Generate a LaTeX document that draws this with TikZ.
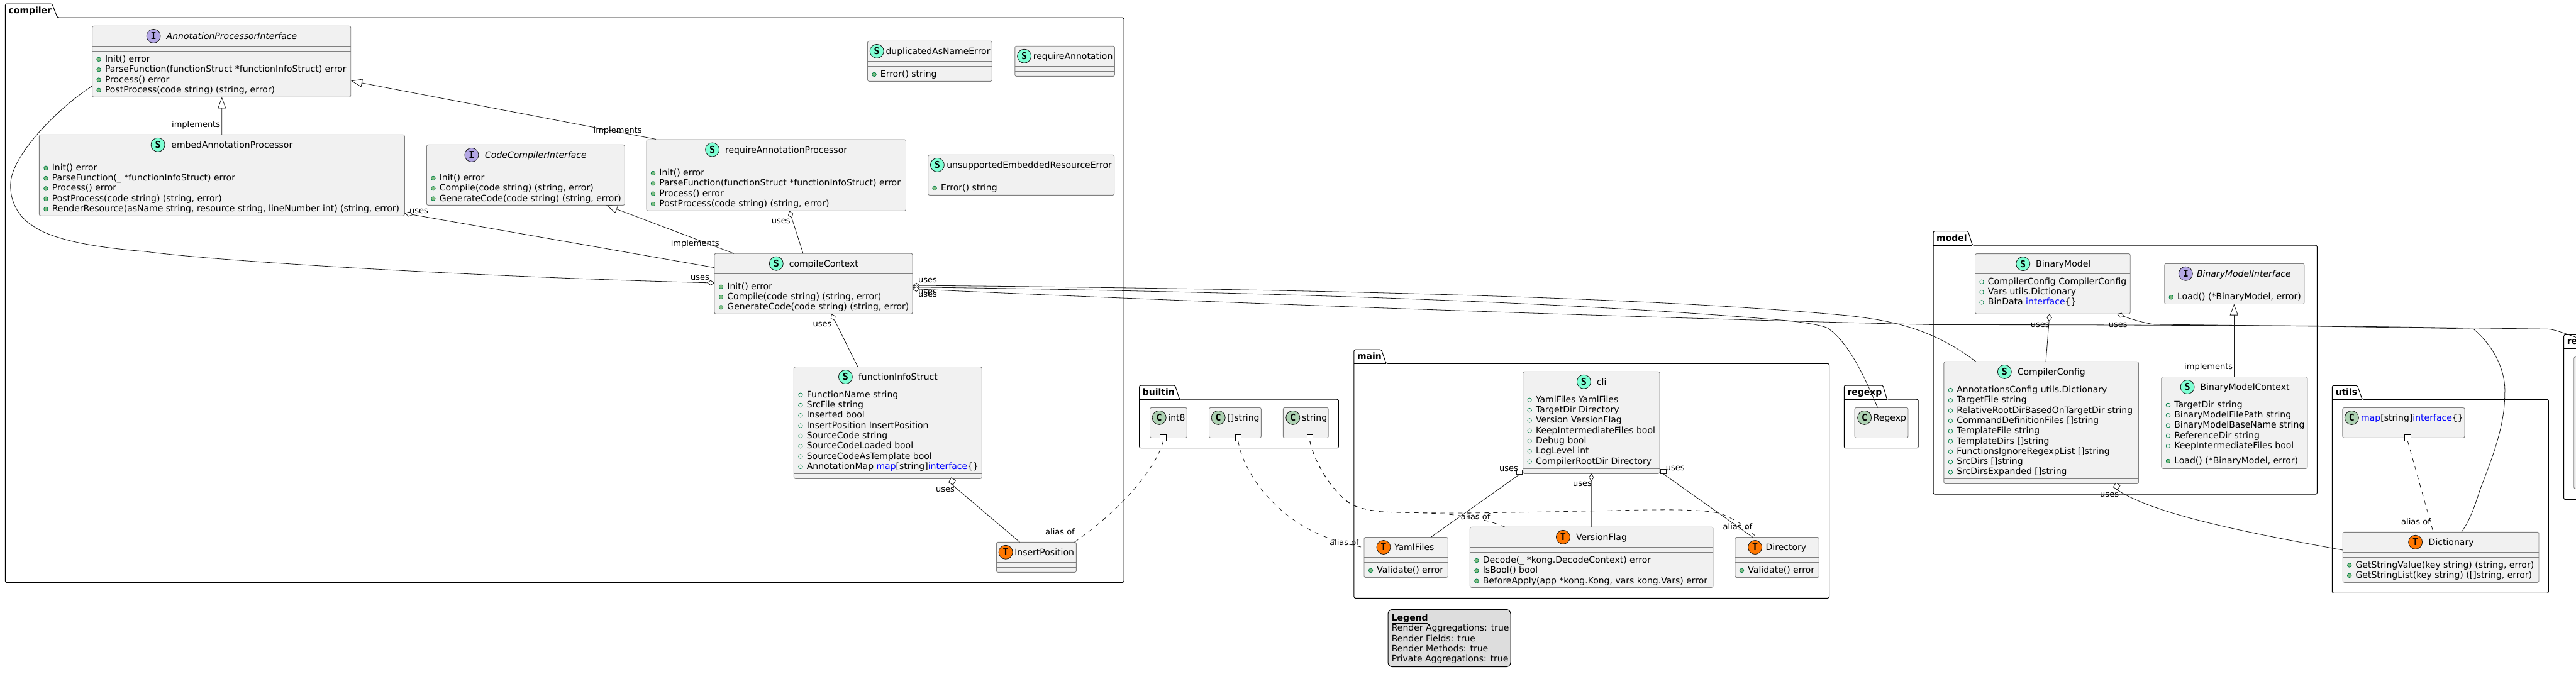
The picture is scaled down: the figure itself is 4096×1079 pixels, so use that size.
\documentclass[tikz,border=0pt]{standalone}
\usepackage{fontspec}
\setmainfont{DejaVu Sans}
\newfontfamily\iconfnt{DejaVu Sans Mono}
\usetikzlibrary{arrows.meta,shapes.geometric}
\definecolor{kfill}{HTML}{F1F1F1}
\definecolor{kline}{HTML}{181818}
\definecolor{kedge}{HTML}{808080}
\definecolor{iconS}{HTML}{7FFFD4}
\definecolor{iconI}{HTML}{B4A7E5}
\definecolor{iconC}{HTML}{ADD1B2}
\definecolor{iconT}{HTML}{FF7700}
\definecolor{dotline}{HTML}{038048}
\definecolor{dotfill}{HTML}{84BE84}
\definecolor{kwblue}{HTML}{0000FF}
\definecolor{legfill}{HTML}{DDDDDD}
\tikzset{
  kboxstyle/.style={rectangle,draw=kedge,fill=kfill,line width=.9pt,rounded corners=2.5pt,inner sep=0pt,outer sep=0pt},
  ksep/.style={draw=kedge,line width=.9pt},
  pkgframe/.style={draw=black,line width=1pt,rounded corners=2.5pt},
  pkgname/.style={anchor=base west,inner sep=0pt,font=\fontsize{14}{16}\selectfont\bfseries},
  ktext/.style={anchor=base west,inner sep=0pt,font=\fontsize{14}{16}\selectfont},
  lab/.style={anchor=base west,inner sep=0pt,font=\fontsize{13}{15}\selectfont},
  kicon/.style={circle,draw=kline,line width=.8pt,minimum size=22pt,inner sep=0pt,font=\iconfnt\bfseries\fontsize{15}{15}\selectfont},
  fdot/.style={circle,draw=dotline,line width=.8pt,minimum size=6.5pt,inner sep=0pt},
  mdot/.style={circle,draw=dotline,fill=dotfill,line width=.8pt,minimum size=6.5pt,inner sep=0pt},
  conn/.style={draw=kline,line width=.8pt},
  alias/.style={draw=kline,line width=.8pt,dash pattern=on 7pt off 7pt},
  dia/.style={{Diamond[fill=white,length=12pt,width=8.5pt]}-},
  tri/.style={{Triangle[fill=white,length=18pt,width=13pt]}-},
  sqn/.style={rectangle,draw=kline,fill=white,line width=.8pt,inner sep=0pt,minimum size=8pt},
  port/.style={rectangle,draw=black,fill=white,line width=1pt,inner sep=0pt,minimum size=9.5pt},
}
\newcommand{\kbox}[7]{%
  \pgfmathsetmacro\kbw{#4-#2}\pgfmathsetmacro\kbh{#5-#3}%
  \pgfmathsetmacro\kcx{(#2+#4)/2}\pgfmathsetmacro\kcy{(#3+#5)/2}%
  \node[kboxstyle,minimum width=\kbw pt,minimum height=\kbh pt] (#1) at (\kcx,\kcy) {};
  \draw[ksep] (#2,#6) -- (#4,#6);
  \ifx\relax#7\relax\else\draw[ksep] (#2,#7) -- (#4,#7);\fi
}
% name, letter, icon x, text x, box top, title
\newcommand{\ktitle}[6]{%
  \node[kicon,fill=icon#2] (#1ico) at (#3,#5+16) {#2};
  \node[ktext] (#1name) at (#4,#5+21) {#6};
}
% prefix, dot style, box left, first baseline, list
\newcommand{\klist}[5]{%
  \foreach \mt [count=\mi from 0] in {#5} {
    \pgfmathsetmacro\my{#4+\mi*16.3}
    \node[#2] (#1d\mi) at (#3+10.5,\my-4) {};
    \node[ktext] (#1t\mi) at (#3+20.2,\my) {\mt};
  }
}
% name, left, right, tab top, line y, bottom, tab right top, tab right bottom
\newcommand{\kpkg}[8]{%
  \draw[pkgframe] (#2,#5) -- (#2,#4) -- (#7,#4) -- (#8,#5) -- (#3,#5) -- (#3,#6) -- (#2,#6) -- cycle;
  \draw[pkgframe] (#2,#5) -- (#8,#5);
  \node[pkgname] (pkg#1) at (#2+5,#4+15.5) {#1};
}
\newcommand{\kwd}[1]{\textcolor{kwblue}{#1}}
\newcommand{\ulab}[3]{\node[lab] (#1) at (#2,#3+4) {uses};}
\newcommand{\ilab}[3]{\node[lab] (#1) at (#2,#3+4) {implements};}
\newcommand{\alab}[3]{\node[lab] (#1) at (#2,#3+4) {alias of};}
\begin{document}
\begin{tikzpicture}[x=1pt,y=-1pt]
\useasboundingbox (0,0) rectangle (4096,1079);
\clip (0,0) rectangle (4096,1079);
% packages
\kpkg{compiler}{8.4}{1787}{6}{28}{926.5}{82.8}{91.2}
\kpkg{builtin}{1811.6}{2128.4}{613}{635.2}{712.7}{1868.5}{1875.5}
\kpkg{main}{2152.9}{2908.5}{556.1}{578.3}{951.3}{2196.4}{2204}
\kpkg{regexp}{2932.3}{3050.2}{613}{635.2}{712.7}{2994}{3000.4}
\kpkg{model}{3074}{3684.3}{367.6}{390.2}{786.2}{3129.3}{3136.3}
\kpkg{utils}{3708.3}{4052.3}{613.3}{635.3}{943.3}{3748.3}{3756}
\kpkg{re}{4076.7}{4400}{532.3}{554.3}{794.7}{4200}{4208}
% compiler classes
\kbox{api}{146.6}{41.4}{557.7}{154.3}{73.2}{81.4}
\ktitle{api}{I}{244.1}{264.5}{41.4}{\itshape AnnotationProcessorInterface}
\klist{apim}{mdot}{146.6}{98.4}{Init() error,ParseFunction(functionStruct *functionInfoStruct) error,Process() error,{PostProcess(code string) (string, error)}}
\kbox{embed}{62.4}{214.3}{643.3}{343.2}{246.4}{254.3}
\ktitle{embed}{S}{251.1}{272.2}{214.3}{embedAnnotationProcessor}
\klist{embedm}{mdot}{62.4}{271.3}{Init() error,ParseFunction(\_ *functionInfoStruct) error,Process() error,{PostProcess(code string) (string, error)},{RenderResource(asName string, resource string, lineNumber int) (string, error)}}
\kbox{code}{678.4}{230.4}{993.3}{326.4}{262.1}{270.4}
\ktitle{code}{I}{749.9}{771}{230.4}{\itshape CodeCompilerInterface}
\klist{codem}{mdot}{678.4}{287.4}{Init() error,{Compile(code string) (string, error)},{GenerateCode(code string) (string, error)}}
\kbox{reqp}{1028}{222}{1440.5}{335.4}{254.3}{262.5}
\ktitle{reqp}{S}{1132.6}{1152.9}{222}{requireAnnotationProcessor}
\klist{reqpm}{mdot}{1028}{279.5}{Init() error,ParseFunction(functionStruct *functionInfoStruct) error,Process() error,{PostProcess(code string) (string, error)}}
\kbox{dup}{1379.5}{65.4}{1577.3}{129.3}{97.5}{105.4}
\ktitle{dup}{S}{1394.2}{1408.3}{65.4}{duplicatedAsNameError}
\klist{dupm}{mdot}{1379.5}{122.4}{Error() string}
\kbox{reqa}{1613.8}{73.2}{1772.4}{121.4}{105.4}{113.2}
\ktitle{reqa}{S}{1628.6}{1642.6}{73.2}{requireAnnotation}
\kbox{unsup}{1475.6}{246.4}{1771.7}{310.4}{278.2}{286.4}
\ktitle{unsup}{S}{1490.4}{1505.1}{246.4}{unsupportedEmbeddedResourceError}
\klist{unsupm}{mdot}{1475.6}{303.4}{Error() string}
\kbox{ctx}{1136}{403.2}{1451}{499.3}{435.4}{443.2}
\ktitle{ctx}{S}{1234.3}{1254.6}{403.2}{compileContext}
\klist{ctxm}{mdot}{1136}{460.2}{Init() error,{Compile(code string) (string, error)},{GenerateCode(code string) (string, error)}}
\kbox{func}{1262.4}{583.5}{1561.2}{761.4}{615.2}{753.3}
\ktitle{func}{S}{1344.4}{1364.8}{583.5}{functionInfoStruct}
\klist{funcf}{fdot}{1262.4}{632.2}{FunctionName string,SrcFile string,Inserted bool,InsertPosition InsertPosition,SourceCode string,SourceCodeLoaded bool,SourceCodeAsTemplate bool,{AnnotationMap \kwd{map}[string]\kwd{interface}\{\}}}
\kbox{ins}{1584.4}{862.3}{1711.3}{910.3}{894.4}{902.5}
\ktitle{ins}{T}{1599.1}{1613.1}{862.3}{InsertPosition}
% builtin
\kbox{int8}{1828.5}{648.4}{1887.4}{696.5}{680.2}{688.3}
\ktitle{int8}{C}{1843.2}{1857.2}{648.4}{int8}
\kbox{sls}{1922.5}{648.4}{2005.3}{696.5}{680.2}{688.3}
\ktitle{sls}{C}{1937.2}{1951.2}{648.4}{[]string}
\kbox{str}{2040.3}{648.4}{2112.2}{696.5}{680.2}{688.3}
\ktitle{str}{C}{2055.8}{2069.8}{648.4}{string}
% main
\kbox{cli}{2421.6}{591.2}{2639}{753.3}{623.3}{745.2}
\ktitle{cli}{S}{2518.4}{2538.8}{591.2}{cli}
\klist{clif}{fdot}{2421.6}{640.3}{YamlFiles YamlFiles,TargetDir Directory,Version VersionFlag,KeepIntermediateFiles bool,Debug bool,LogLevel int,CompilerRootDir Directory}
\kbox{yaml}{2169}{854.5}{2302.3}{918.4}{886.3}{894.4}
\ktitle{yaml}{T}{2199.9}{2216.8}{854.5}{YamlFiles}
\klist{yamlm}{mdot}{2169}{911.4}{Validate() error}
\kbox{ver}{2337.4}{838.3}{2724}{934.3}{870.4}{878.5}
\ktitle{ver}{T}{2485.4}{2505.8}{838.3}{VersionFlag}
\klist{verm}{mdot}{2337.4}{895.5}{Decode(\_ *kong.DecodeContext) error,IsBool() bool,{BeforeApply(app *kong.Kong, vars kong.Vars) error}}
\kbox{dir}{2759}{854.5}{2892.3}{918.4}{886.3}{894.4}
\ktitle{dir}{T}{2790.6}{2807.4}{854.5}{Directory}
\klist{dirm}{mdot}{2759}{911.4}{Validate() error}
% regexp
\kbox{rgx}{2949.1}{648.4}{3034}{696.5}{680.2}{688.3}
\ktitle{rgx}{C}{2964.6}{2978.6}{648.4}{Regexp}
% model
\kbox{bm}{3140.5}{403.6}{3387.2}{499.2}{435.3}{491.2}
\ktitle{bm}{S}{3216.7}{3237}{403.6}{BinaryModel}
\klist{bmf}{fdot}{3140.5}{452.3}{CompilerConfig CompilerConfig,Vars utils.Dictionary,{BinData \kwd{interface}\{\}}}
\kbox{bmi}{3441.7}{419.3}{3664}{483.5}{451.4}{459.8}
\ktitle{bmi}{I}{3475.3}{3492.8}{419.3}{\itshape BinaryModelInterface}
\klist{bmim}{mdot}{3441.7}{476.8}{{Load() (*BinaryModel, error)}}
\kbox{cfg}{3090.9}{575.4}{3400.5}{769.4}{607.5}{761.4}
\ktitle{cfg}{S}{3187.3}{3207.6}{575.4}{CompilerConfig}
\klist{cfgf}{fdot}{3090.9}{624.5}{AnnotationsConfig utils.Dictionary,TargetFile string,RelativeRootDirBasedOnTargetDir string,CommandDefinitionFiles []string,TemplateFile string,TemplateDirs []string,FunctionsIgnoreRegexpList []string,SrcDirs []string,SrcDirsExpanded []string}
\kbox{bmc}{3436.9}{599.5}{3668.9}{745.3}{631.3}{720.4}
\ktitle{bmc}{S}{3478.1}{3498.4}{599.5}{BinaryModelContext}
\klist{bmcf}{fdot}{3436.9}{648.3}{TargetDir string,BinaryModelFilePath string,BinaryModelBaseName string,ReferenceDir string,KeepIntermediateFiles bool}
\klist{bmcm}{mdot}{3436.9}{737.4}{{Load() (*BinaryModel, error)}}
% utils
\kbox{mapc}{3724.8}{648.5}{3919}{696.3}{680.2}{688.3}
\ktitle{mapc}{C}{3739.3}{3754}{648.5}{\kwd{map}[string]\kwd{interface}\{\}}
\kbox{dict}{3725.2}{846.3}{4037}{926.3}{878.3}{886}
\ktitle{dict}{T}{3840.6}{3861.5}{846.3}{Dictionary}
\klist{dictm}{mdot}{3725.2}{903}{{GetStringValue(key string) (string, error)},{GetStringList(key string) ([]string, error)}}
% cut-off package
\kbox{refl}{4092.7}{567.7}{4400}{777.3}{599.3}{704.3}
% square ends
\node[port] (p1) at ([shift={(21,0)}]int8.south west) {};
\node[port] (p2) at ([shift={(46.3,0)}]sls.south west) {};
\node[port] (p3) at ([shift={(42.5,0)}]str.south west) {};
\node[port] (p4) at ([shift={(103.5,0)}]mapc.south west) {};
\node[sqn,minimum width=9pt,minimum height=7pt] (sqy) at ([shift={(-5.6,-2.6)}]cli.south west) {};
\node[sqn,minimum width=9pt,minimum height=7pt] (sqd) at ([shift={(6,-3.3)}]cli.south east) {};
\node[sqn,rotate=-30] (sqf) at ([shift={(251.6,4)}]func.south west) {};
\node[sqn,rotate=-30] (sqc) at ([shift={(274.8,4)}]cfg.south west) {};
% realisations
\draw[conn,tri] ([shift={(206.2,0)}]api.south west) -- ([shift={(290.4,0)}]embed.north west);
\draw[conn,tri] ([shift={(0.3,87.2)}]api.north east) -- ([shift={(15,-0.6)}]reqp.north west);
\draw[conn,tri] ([shift={(285.6,0)}]code.south west) -- ([shift={(31,0)}]ctx.north west);
\draw[conn,tri] ([shift={(110.5,0)}]bmi.south west) -- ([shift={(115.3,0)}]bmc.north west);
% aggregations
\draw[conn,{Diamond[fill=white,length=14pt,width=8pt]}-] ([shift={(0,-4)}]embed.south east) -- ([shift={(0,22.5)}]ctx.north west);
\draw[conn,-{Diamond[fill=white,length=12pt,width=8.5pt]}] ([shift={(0,95.4)}]api.north west) .. controls (95,170) and (25,240) .. (17.5,285.7) .. controls (13,318) and (30,345) .. (49,357) .. controls (85,385) and (170,395) .. (231,400) .. controls (350,416) and (750,440) .. ([shift={(0,46.8)}]ctx.north west);
\draw[conn,dia] ([shift={(227.3,0)}]reqp.south west) -- ([shift={(141,0)}]ctx.north west);
\draw[conn,dia] ([shift={(186,0)}]ctx.south west) -- ([shift={(101.6,0)}]func.north west);
\draw[conn] (sqf.south) -- ([shift={(37.1,0)}]ins.north west);
\draw[conn,dia] ([shift={(0,50.8)}]ctx.north east) .. controls (2000,459) and (2600,470) .. (2938,502) .. controls (3000,509) and (3070,520) .. ([shift={(51.1,0)}]cfg.north west);
\draw[conn,dia] ([shift={(0,53.5)}]ctx.north east) .. controls (2000,464) and (2500,480) .. (2842,510) .. controls (2870,513) and (2895,517) .. (2906,521.7) .. controls (2940,545) and (2965,600) .. ([shift={(36.5,0)}]rgx.north west);
\draw[conn,dia] ([shift={(0,56.3)}]ctx.north east) .. controls (2000,485) and (2700,508) .. (3075,516.5) -- (3300,516.7) -- (3680,518.3) -- (4050,523.3) .. controls (4065,524) and (4075,530) .. ([shift={(94.3,0)}]refl.north west);
\draw[conn,{Diamond[fill=white,length=13pt,width=8pt]}-] ([shift={(225.5,0)}]bm.south west) .. controls (3390,508) and (3410,514) .. (3426,516) .. controls (3600,518) and (3800,520) .. (3933,523.3) .. controls (3965,550) and (3985,590) .. (3982.7,626.7) .. controls (3983,680) and (3960,735) .. (3943,780) .. controls (3932,815) and (3925,830) .. ([shift={(188.8,0)}]dict.north west);
\draw[conn,dia] ([shift={(118.5,0)}]bm.south west) -- ([shift={(162.1,0)}]cfg.north west);
\draw[conn] (sqc.south) .. controls (3425,820) and (3590,850) .. ([shift={(0,28.7)}]dict.north west);
\draw[conn] (sqy.south) -- ([shift={(106,0)}]yaml.north west);
\draw[conn,dia] ([shift={(108.7,0)}]cli.south west) -- ([shift={(192.9,0)}]ver.north west);
\draw[conn] (sqd.south) -- ([shift={(28,0)}]dir.north west);
% aliases
\draw[alias] (p1.south) .. controls (1840,740) and (1790,805) .. ([shift={(-2.8,0)}]ins.north east);
\draw[alias] (p2.south) .. controls (1975,745) and (2020,815) .. (2095.8,849) .. controls (2125,862) and (2145,866) .. ([shift={(0,16.5)}]yaml.north west);
\draw[alias] (p3.south) .. controls (2092,745) and (2130,795) .. (2154,804.6) .. controls (2170,811) and (2190,813) .. (2196,814) .. controls (2260,817) and (2330,812) .. ([shift={(55.6,0)}]ver.north west);
\draw[alias] (p3.south) .. controls (2092,745) and (2130,795) .. (2154,804.6) .. controls (2170,811) and (2190,813) .. (2196,814) .. controls (2300,818) and (2400,815) .. (2530,812.8) .. controls (2620,811) and (2700,808) .. (2736.6,817) .. controls (2755,825) and (2775,835) .. ([shift={(33.7,0)}]dir.north west);
\draw[alias] (p4.south) -- ([shift={(143.8,0)}]dict.north west);
% labels
\ilab{la1}{273}{198.6}
\ilab{la2}{943.5}{207.9}
\ilab{la3}{1066.6}{387.5}
\ilab{la4}{3473}{583.4}
\ulab{lu1}{651}{335.7}
\ulab{lu2}{1098}{441}
\ulab{lu3}{1226.6}{351}
\ulab{lu4}{1460}{445.7}
\ulab{lu5}{1460}{464.3}
\ulab{lu6}{1460}{468.6}
\ulab{lu7}{1292.5}{515.9}
\ulab{lu8}{1488}{778}
\ulab{lu9}{2384}{745}
\ulab{lu10}{2648.7}{744}
\ulab{lu11}{2501}{769}
\ulab{lu12}{3228.6}{516}
\ulab{lu13}{3352.7}{516}
\ulab{lu14}{3339}{786}
\alab{lb1}{1662}{846.4}
\alab{lb2}{2114}{863.7}
\alab{lb3}{2322.6}{822.7}
\alab{lb4}{2739.5}{838}
\alab{lb5}{3818}{830.7}
% legend
\node[rectangle,draw=black,fill=legfill,line width=1pt,rounded corners=7pt,inner sep=0pt,minimum width=195pt,minimum height=91.2pt] (legend) at (2304.5,1015) {};
\node[ktext,font=\fontsize{14}{16}\selectfont\bfseries] (leg0) at (2212.6,987) {\underline{Legend}};
\node[ktext] (leg1) at (2212.6,1003.5) {Render Aggregations: true};
\node[ktext] (leg2) at (2212.6,1020) {Render Fields: true};
\node[ktext] (leg3) at (2212.6,1036) {Render Methods: true};
\node[ktext] (leg4) at (2212.6,1052) {Private Aggregations: true};
\end{tikzpicture}
\end{document}
